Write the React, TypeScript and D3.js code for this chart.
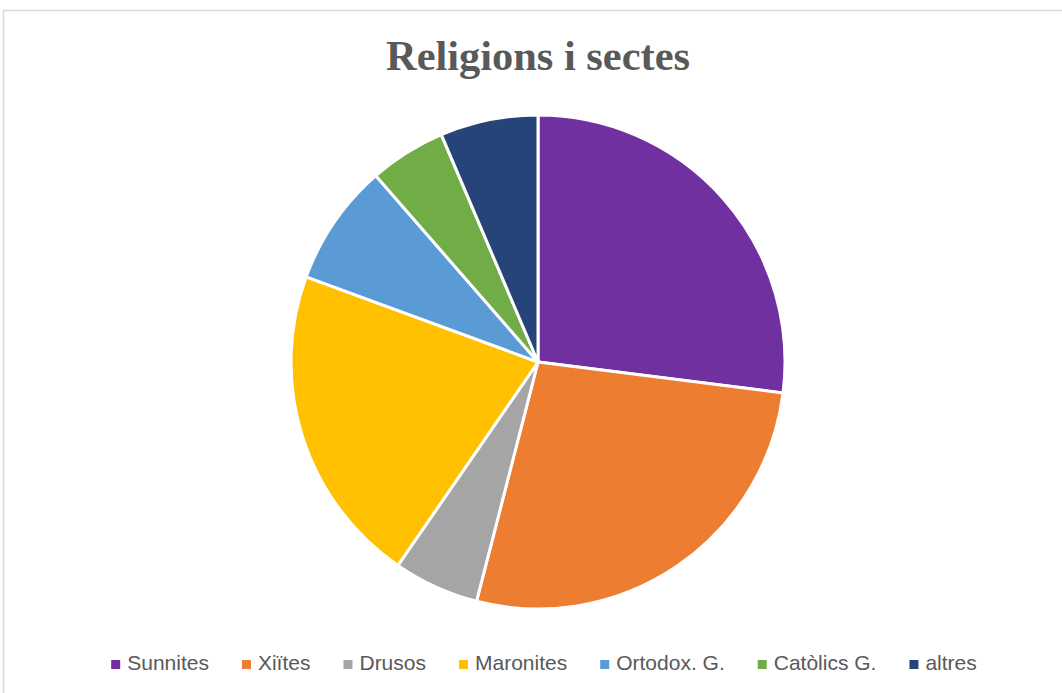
import React, { useEffect, useRef } from "react";
import * as d3 from "d3";

const categories = ["Sunnites", "Xiïtes", "Drusos", "Maronites", "Ortodox. G.", "Catòlics G.", "altres"];
const values = [27, 27, 5.6, 21, 8, 5, 6.4];
const colors = ["#7030a0", "#ed7d31", "#a5a5a5", "#ffc000", "#5b9bd5", "#70ad47", "#264478"];
const title = "Religions i sectes";

const W = 1062;
const H = 693;

export default function App() {
  const legendRef = useRef<SVGGElement>(null);

  const cx = 538;
  const cy = 362;
  const r = 247;
  const pie = d3.pie<number>().sort(null).value((d) => d)(values);
  const arc = d3.arc<d3.PieArcDatum<number>>().innerRadius(0).outerRadius(r);

  useEffect(() => {
    const g = d3.select(legendRef.current);
    g.selectAll("*").remove();
    const items = g.selectAll("g.item").data(categories).enter().append("g").attr("class", "item");
    items.append("rect").attr("width", 9).attr("height", 9).attr("y", -10).attr("fill", (_, i) => colors[i]);
    items
      .append("text")
      .attr("x", 16)
      .attr("y", 0)
      .attr("font-family", "'Liberation Sans', Arial, sans-serif")
      .attr("font-size", 21)
      .attr("fill", "#595959")
      .text((d) => d);
    const widths: number[] = [];
    items.each(function () {
      const t = d3.select(this).select("text").node() as SVGTextElement;
      widths.push(16 + t.getComputedTextLength());
    });
    const gap = 33;
    const total = widths.reduce((a, b) => a + b, 0) + gap * (widths.length - 1);
    let x = 544 - total / 2;
    items.attr("transform", (_, i) => {
      const tx = x;
      x += widths[i] + gap;
      return `translate(${tx},670)`;
    });
  }, []);

  return (
    <svg width={W} height={H} style={{ position: "absolute", left: 0, top: 0, background: "#fff" }}>
      <rect x={3.5} y={10.5} width={W + 10} height={H + 10} fill="#fff" stroke="#d9d9d9" strokeWidth={1.5} />
      <text
        x={538}
        y={70}
        textAnchor="middle"
        fontFamily="'Liberation Serif', 'Times New Roman', serif"
        fontWeight="bold"
        fontSize={42}
        fill="#595959"
        textLength={304}
        lengthAdjust="spacingAndGlyphs"
      >
        {title}
      </text>
      <g transform={`translate(${cx},${cy})`}>
        {pie.map((p, i) => (
          <path key={categories[i]} d={arc(p) || ""} fill={colors[i]} stroke="#fff" strokeWidth={3} />
        ))}
      </g>
      <g ref={legendRef} />
    </svg>
  );
}
